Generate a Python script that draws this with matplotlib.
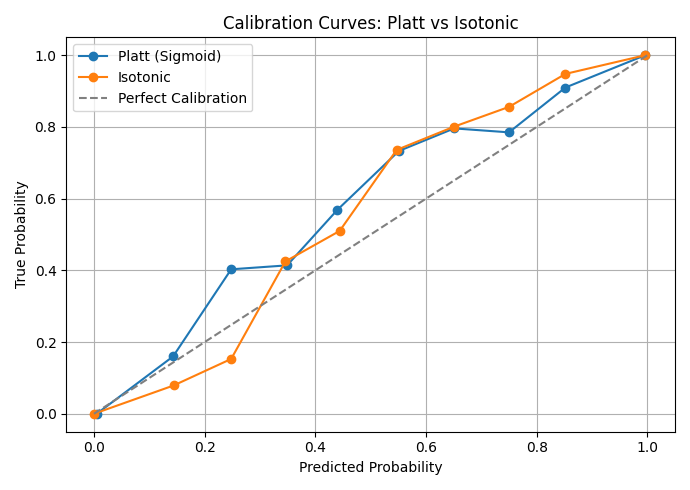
import matplotlib
matplotlib.use('Agg')
import matplotlib.pyplot as plt

platt_x = [0.005, 0.143, 0.248, 0.349, 0.44, 0.551, 0.651, 0.75, 0.852, 0.996]
platt_y = [0.0, 0.16, 0.403, 0.414, 0.569, 0.733, 0.796, 0.785, 0.91, 1.0]
iso_x = [0.0, 0.144, 0.248, 0.346, 0.444, 0.547, 0.651, 0.75, 0.852, 0.996]
iso_y = [0.0, 0.079, 0.153, 0.425, 0.51, 0.736, 0.801, 0.856, 0.948, 1.0]

plt.figure(figsize=(6.9, 4.9), dpi=100)
plt.plot(platt_x, platt_y, marker='o', label='Platt (Sigmoid)')
plt.plot(iso_x, iso_y, marker='o', label='Isotonic')
plt.plot([0, 1], [0, 1], '--', color='gray', label='Perfect Calibration')
plt.title('Calibration Curves: Platt vs Isotonic')
plt.xlabel('Predicted Probability')
plt.ylabel('True Probability')
plt.legend(loc='upper left')
plt.grid(True)
plt.tight_layout()
plt.savefig('out.png')
